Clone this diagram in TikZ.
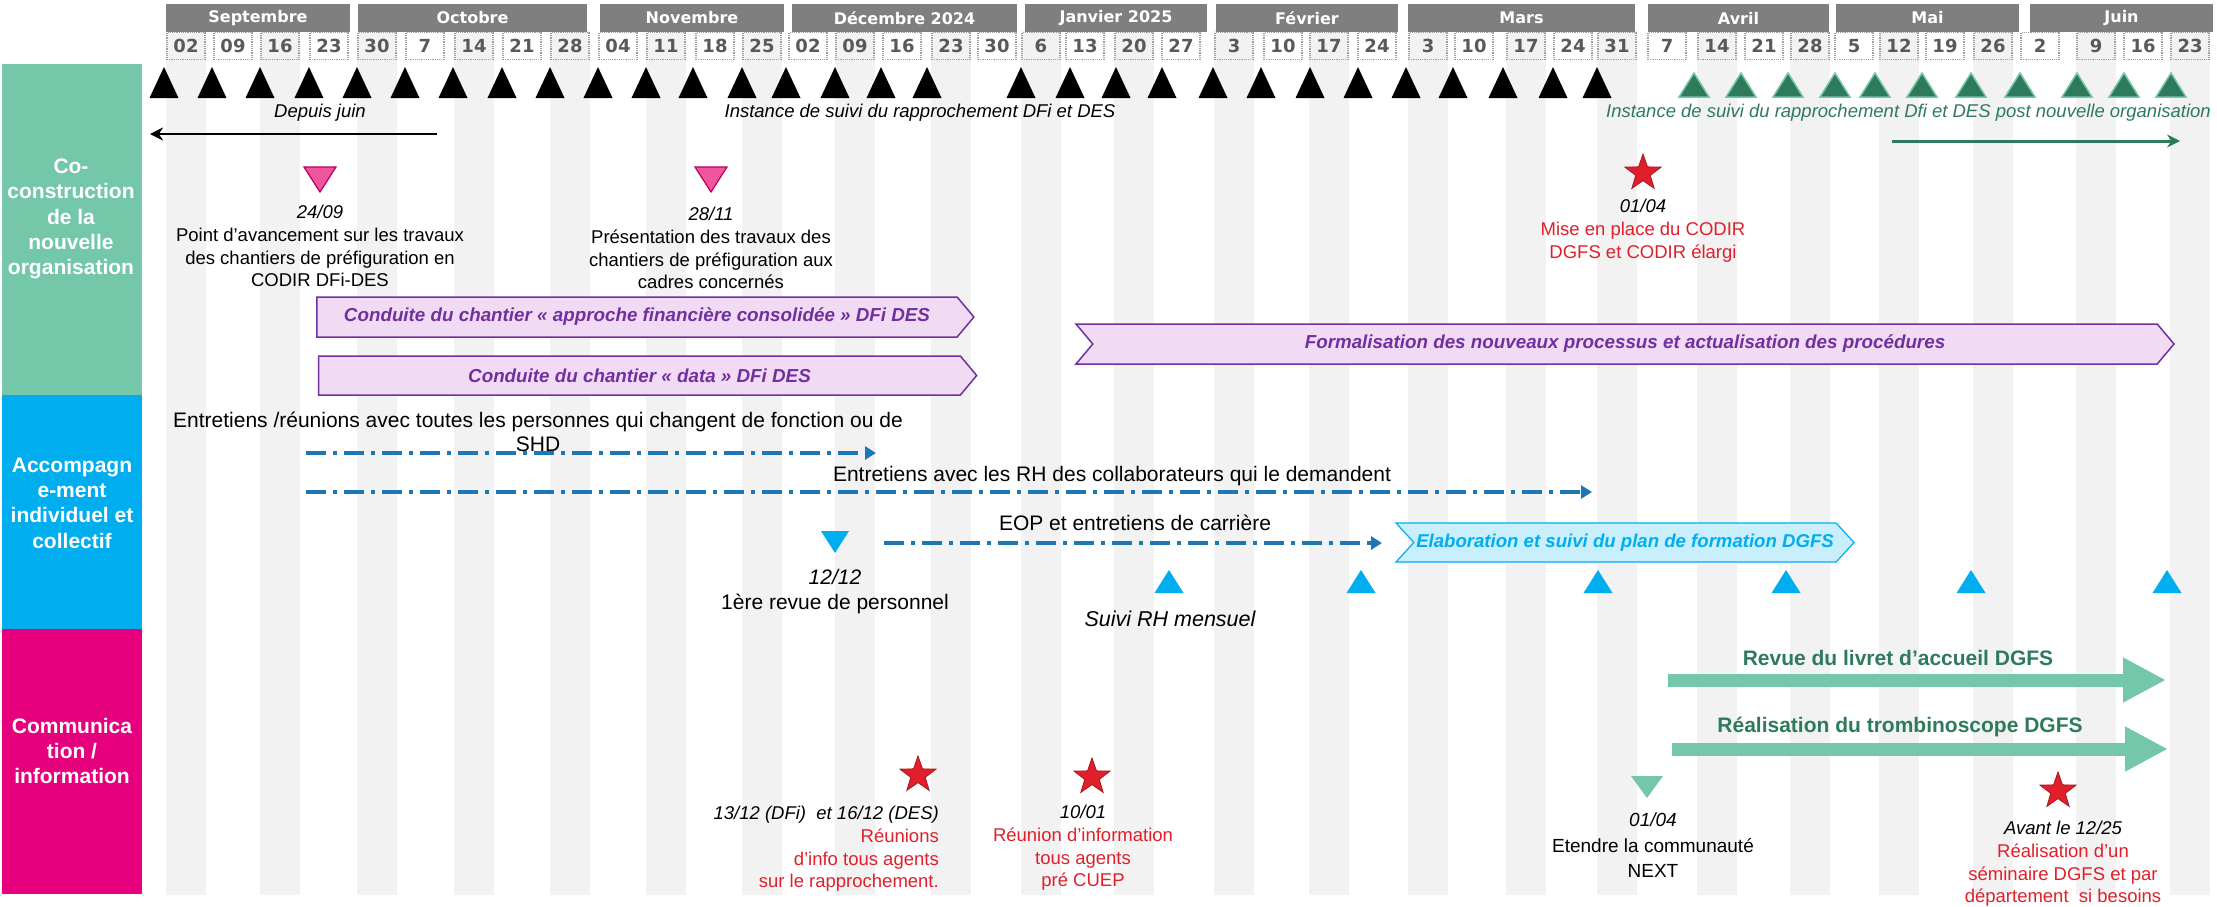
\documentclass[tikz,border=0pt]{standalone}
\usepackage{fontspec}
\setmainfont{Liberation Sans}
\newfontfamily\hdfont{DejaVu Sans}
\usepackage{tikz}
\usetikzlibrary{arrows.meta, shapes.geometric, shapes.symbols}

\definecolor{coGreen}{HTML}{74C7A8}
\definecolor{accBlue}{HTML}{00AEEF}
\definecolor{comPink}{HTML}{E6007E}
\definecolor{stripe}{HTML}{F2F2F2}
\definecolor{headGray}{HTML}{7F7F7F}
\definecolor{weekGray}{HTML}{595959}
\definecolor{deepGreen}{HTML}{2E7B5C}
\definecolor{plum}{HTML}{7030A0}
\definecolor{lilac}{HTML}{F1DAF3}
\definecolor{alertRed}{HTML}{E01F2B}
\definecolor{dashBlue}{HTML}{1E77B5}
\definecolor{skyFill}{HTML}{C9EEFC}
\definecolor{rose}{HTML}{F2559F}
\definecolor{roseEdge}{HTML}{B8005A}

\tikzset{
>={Stealth[length=13pt,width=13pt]}, % heads of the thin arrows
every node/.style={inner sep=0pt, font=\fontsize{18.5}{22.7}\selectfont}, % plain text of the plan
month/.style={fill=headGray, text=white, minimum height=28pt, font=\hdfont\bfseries\fontsize{16}{18}\selectfont},
week/.style={draw=gray!75, densely dotted, line width=1.2pt, minimum width=38pt, minimum height=27pt, text=weekGray, font=\hdfont\bfseries\fontsize{18}{20}\selectfont},
lane/.style={text=white, align=center, font=\bfseries\fontsize{21}{25.3}\selectfont},
note/.style={align=center},
hr/.style={font=\fontsize{21}{23.5}\selectfont}, % the bigger text of the support lane
alert/.style={align=center, text=alertRed},
workstream/.style={signal, signal to=east, signal pointer angle=100, draw=plum, fill=lilac, line width=1.5pt, text=plum, font=\bfseries\itshape\fontsize{18.8}{22}\selectfont},
milestone/.style={star, star points=5, star point ratio=2.5, minimum size=38pt, fill=alertRed, draw=alertRed!75!black, line width=0.8pt},
followup/.style={dashBlue, line width=3.5pt, dash pattern=on 20pt off 7pt on 4pt off 7pt, -{Triangle[length=11pt,width=13pt]}},
bigarrow/.style={coGreen, line width=13pt, -{Triangle[length=43pt,width=42pt]}},
}

\begin{document}
\begin{tikzpicture}[x=1pt, y=-1pt]
\useasboundingbox (0,0) rectangle (2217,906);

% weeks: grey band under every other week, dotted box with the day
\foreach \x/\d [count=\i] in {186/02,233/09,280/16,329/23,377/30,425/7,474/14,522/21,570/28,
  618/04,666/11,715/18,762/25,808/02,855/09,902/16,951/23,997/30,1041/6,1085/13,1134/20,1181/27,
  1234/3,1283/10,1329/17,1377/24,1428/3,1474/10,1526/17,1573/24,1617/31,1667/7,1717/14,1764/21,
  1810/28,1854/5,1899/12,1945/19,1993/26,2040/2,2096/9,2143/16,2190/23}{
  \ifodd\i\relax \fill[stripe] (\x-20,30) rectangle (\x+20,895); \fi
  \node[week] (w\i) at (\x,46) {\d};
}

% months
\node[month, minimum width=184pt] (sep) at (258,18) {Septembre};
\node[month, minimum width=229pt] (oct) at (472.5,18) {Octobre};
\node[month, minimum width=184pt] (nov) at (692,18) {Novembre};
\node[month, minimum width=225pt] (dec) at (904.5,18) {Décembre 2024};
\node[month, minimum width=182pt] (jan) at (1116,18) {Janvier 2025};
\node[month, minimum width=182pt] (feb) at (1307,18) {Février};
\node[month, minimum width=227pt] (mar) at (1521.5,18) {Mars};
\node[month, minimum width=181pt] (apr) at (1738.5,18) {Avril};
\node[month, minimum width=183pt] (may) at (1927.5,18) {Mai};
\node[month, minimum width=183pt] (jun) at (2121.5,18) {Juin};

% lanes
\fill[coGreen] (2,64) rectangle (142,395);
\fill[accBlue] (2,395) rectangle (142,629);
\fill[comPink] (2,629) rectangle (142,894);
\node[lane] (cocons) at (71,219) {Co-\\construction\\de la\\nouvelle\\organisation};
\node[lane] (accomp) at (72,503) {Accompagn\\e-ment\\individuel et\\collectif};
\node[lane] (commu) at (72,751) {Communica\\tion /\\information};

% steering meetings, then after the new organisation
\foreach \x in {164,212,260,309,357,405,453,502,550,598,646,693,742,786,835,881,927,
  1021,1070,1116,1162,1213,1261,1310,1358,1406,1453,1503,1553,1597}
  \fill (\x-14.5,98) -- (\x+14.5,98) -- (\x,67) -- cycle;
\foreach \x in {1694,1741,1788,1835,1875,1922,1971,2020,2077,2124,2171}
  \filldraw[fill=deepGreen, draw=coGreen, line width=1.5pt] (\x-15,97) -- (\x+15,97) -- (\x,73) -- cycle;

\node[font=\itshape\fontsize{18.5}{22.7}\selectfont] (juin) at (320,113) {Depuis juin};
\node[font=\itshape\fontsize{18.5}{22.7}\selectfont] (inst) at (920,113) {Instance de suivi du rapprochement DFi et DES};
\node[anchor=east, text=deepGreen, font=\itshape\fontsize{18.5}{22.7}\selectfont] (instpost) at (2211,113) {Instance de suivi du rapprochement Dfi et DES post nouvelle organisation};
\coordinate (juinA) at (437,134);
\coordinate (juinB) at (150,134);
\draw[->, line width=2.5pt] (juinA) -- (juinB);
\coordinate (postA) at (1892,141);
\coordinate (postB) at (2180,141);
\draw[->, deepGreen, line width=3pt] (postA) -- (postB);

% co-construction
\filldraw[fill=rose, draw=roseEdge, line width=1.2pt] (304,167) -- (336,167) -- (320,192) -- cycle;
\filldraw[fill=rose, draw=roseEdge, line width=1.2pt] (695,167) -- (727,167) -- (711,192) -- cycle;
\node[note, anchor=north] (pt2409) at (320,205) {\textit{24/09}\\Point d’avancement sur les travaux\\des chantiers de préfiguration en\\CODIR DFi-DES};
\node[note, anchor=north] (pres2811) at (711,207) {\textit{28/11}\\Présentation des travaux des\\chantiers de préfiguration aux\\cadres concernés};
\node[milestone] (codir) at (1643,173) {};
\node[alert, anchor=north] (codirtxt) at (1643,199) {\textcolor{black}{\itshape 01/04}\\Mise en place du CODIR\\DGFS et CODIR élargi};

\node[workstream, minimum width=657pt, minimum height=40pt] (afc) at (637,317) {Conduite du chantier « approche financière consolidée » DFi DES};
\node[workstream, minimum width=658pt, minimum height=39pt] (data) at (639.5,375.5) {Conduite du chantier « data » DFi DES};
\node[workstream, signal from=west, minimum width=1098pt, minimum height=40pt] (proc) at (1625,344) {Formalisation des nouveaux processus et actualisation des procédures};

% accompagnement
\node[note, hr, anchor=north] (shd) at (538,412) {Entretiens /réunions avec toutes les personnes qui changent de fonction ou de\\SHD};
\coordinate (shdA) at (306,453);
\coordinate (shdB) at (876,453);
\draw[followup] (shdA) -- (shdB);
\node[hr] (rh) at (1112,476) {Entretiens avec les RH des collaborateurs qui le demandent};
\coordinate (rhA) at (306,492);
\coordinate (rhB) at (1592,492);
\draw[followup] (rhA) -- (rhB);
\node[hr] (eop) at (1135,523) {EOP et entretiens de carrière};
\coordinate (eopA) at (884,543);
\coordinate (eopB) at (1382,543);
\draw[followup] (eopA) -- (eopB);
\node[workstream, signal from=west, signal pointer angle=95, draw=accBlue, fill=skyFill, text=accBlue, line width=1.2pt, minimum width=458pt, minimum height=39pt, font=\bfseries\itshape\fontsize{18.6}{22}\selectfont] (plan) at (1625,542.5) {Elaboration et suivi du plan de formation DGFS};

\fill[accBlue] (821,531) -- (849,531) -- (835,553) -- cycle;
\node[note, anchor=north, font=\fontsize{21}{25}\selectfont] (rev1212) at (835,569) {\textit{12/12}\\1ère revue de personnel};
\foreach \x in {1169,1361,1598,1786,1971,2167}
  \fill[accBlue] (\x-14.5,593) -- (\x+14.5,593) -- (\x,570) -- cycle;
\node[font=\itshape\fontsize{21.5}{24}\selectfont] (suivi) at (1170,619) {Suivi RH mensuel};

% communication
\node[milestone] (mtg1312) at (918,775) {};
\node[alert, anchor=north east, align=right] (mtg1312txt) at (939,806) {\textcolor{black}{\itshape 13/12 (DFi)\ \ et 16/12 (DES)}\\Réunions\\d’info tous agents\\sur le rapprochement.};
\node[milestone] (mtg1001) at (1092,777) {};
\node[alert, anchor=north] (mtg1001txt) at (1083,805) {\textcolor{black}{\itshape 10/01}\\Réunion d’information\\tous agents\\pré CUEP};

\node[text=deepGreen, font=\bfseries\fontsize{21}{24}\selectfont] (livret) at (1898,658) {Revue du livret d’accueil DGFS};
\coordinate (livretA) at (1668,680);
\coordinate (livretB) at (2166,680);
\draw[bigarrow] (livretA) -- (livretB);
\node[text=deepGreen, font=\bfseries\fontsize{21}{24}\selectfont] (trombi) at (1900,727) {Réalisation du trombinoscope DGFS};
\coordinate (trombiA) at (1672,749);
\coordinate (trombiB) at (2168,749);
\draw[bigarrow] (trombiA) -- (trombiB);

\fill[coGreen] (1631,776) -- (1663,776) -- (1647,798) -- cycle;
\node[note, anchor=north, font=\fontsize{19}{25.5}\selectfont] (next) at (1653,813) {\textit{01/04}\\Etendre la communauté\\NEXT};
\node[milestone] (sem) at (2058,791) {};
\node[alert, anchor=north] (semtxt) at (2063,821) {\textcolor{black}{\itshape Avant le 12/25}\\Réalisation d’un\\séminaire DGFS et par\\département\ \ si besoins};
\end{tikzpicture}
\end{document}
